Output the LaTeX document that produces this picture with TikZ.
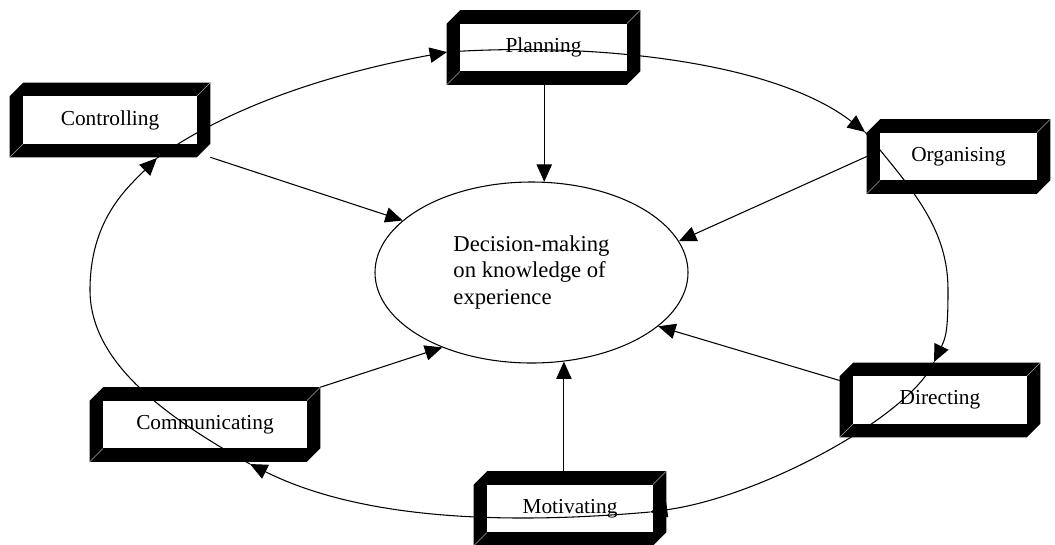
\documentclass[tikz,border=0pt]{standalone}
\usepackage{fontspec}
\setmainfont{Liberation Serif}
\usetikzlibrary{arrows.meta,shapes.geometric,calc,backgrounds}
\newcommand\bevelframe[1]{%
  \fill[black] ($(#1.north west)+(0,-10pt)$) -- ($(#1.north west)+(10pt,0)$) -- (#1.north east)
     -- ($(#1.south east)+(0,10pt)$) -- ($(#1.south east)+(-10pt,0)$) -- (#1.south west) -- cycle;
  \fill[white] ($(#1.north west)+(10pt,-10pt)$) rectangle ($(#1.south east)+(-10pt,10pt)$);
  \draw[gray!70,line width=0.4pt] ($(#1.north east)+(-10pt,-10pt)$) -- (#1.north east);
  \draw[gray!70,line width=0.4pt] ($(#1.south west)+(10pt,10pt)$) -- (#1.south west);
}
\begin{document}
\begin{tikzpicture}[x=0.75pt,y=-0.75pt,
  box/.style={inner sep=0pt, minimum height=55.5pt, font=\fontsize{16pt}{19pt}\selectfont},
  hub/.style={ellipse, draw, line width=0.8pt, inner sep=0pt, minimum width=234.75pt, minimum height=135.75pt,
     align=left, font=\fontsize{17pt}{20pt}\selectfont},
  arr/.style={line width=0.8pt, -{Triangle[length=13pt,width=11.5pt]}},
]
\useasboundingbox (0,0) rectangle (1055,544);

% boxes (text)
\node[box, minimum width=144.75pt] (pl)   at (543.5,47.5)  {Planning};
\node[box, minimum width=137.25pt] (org)  at (958.5,156.5) {Organising};
\node[box, minimum width=150pt]    (dir)  at (940,400)     {Directing};
\node[box, minimum width=144pt]    (mot)  at (570,508.5)   {Motivating};
\node[box, minimum width=172.5pt]  (com)  at (205,424.5)   {Communicating};
\node[box, minimum width=150pt]    (ctrl) at (110,120)     {Controlling};

% centre
\node[hub] (dm) at (531.5,272.5) {Decision-making\\on knowledge of\\experience};

% frames
\begin{scope}[on background layer]
  \bevelframe{pl}
  \bevelframe{org}
  \bevelframe{dir}
  \bevelframe{mot}
  \bevelframe{com}
  \bevelframe{ctrl}
\end{scope}

% cycle points
\coordinate (p1) at (90,290);
\coordinate (p2) at (157,158);
\coordinate (p3) at (447,52);
\coordinate (p4) at (865,132);
\coordinate (p5) at (948,290);
\coordinate (p6) at (934,362);
\coordinate (p7) at (650,512);
\coordinate (p8) at (250,464);

% cycle arcs
\draw[arr] (p8) .. controls +(-90,-50) and +(0,70) .. (p1) .. controls +(0,-70) and +(-30,30) .. (p2);
\draw[arr] (p2) .. controls +(70,-50) and +(-120,22) .. (p3);
\draw[arr] (p3) .. controls +(150,-10) and +(-90,-70) .. (p4);
\draw[arr] (p4) .. controls +(50,60) and +(0,-60) .. (p5) .. controls +(0,40) and +(12,-25) .. (p6);
\draw[arr] (p6) .. controls +(-25,55) and +(110,-15) .. (p7);
\draw[arr] (p7) .. controls +(-170,15) and +(100,50) .. (p8);

% spokes
\draw[arr] (dm.82 |- pl.south) -- (dm.82);
\draw[arr] (ctrl.south east) -- (dm.158);
\draw[arr] (org.west) -- (dm.12);
\draw[arr] (dir.169) -- (dm.-23);
\draw[arr] (com.north east) -- (dm.220);
\draw[arr] (dm.-70 |- mot.north) -- (dm.-70);
\end{tikzpicture}
\end{document}
